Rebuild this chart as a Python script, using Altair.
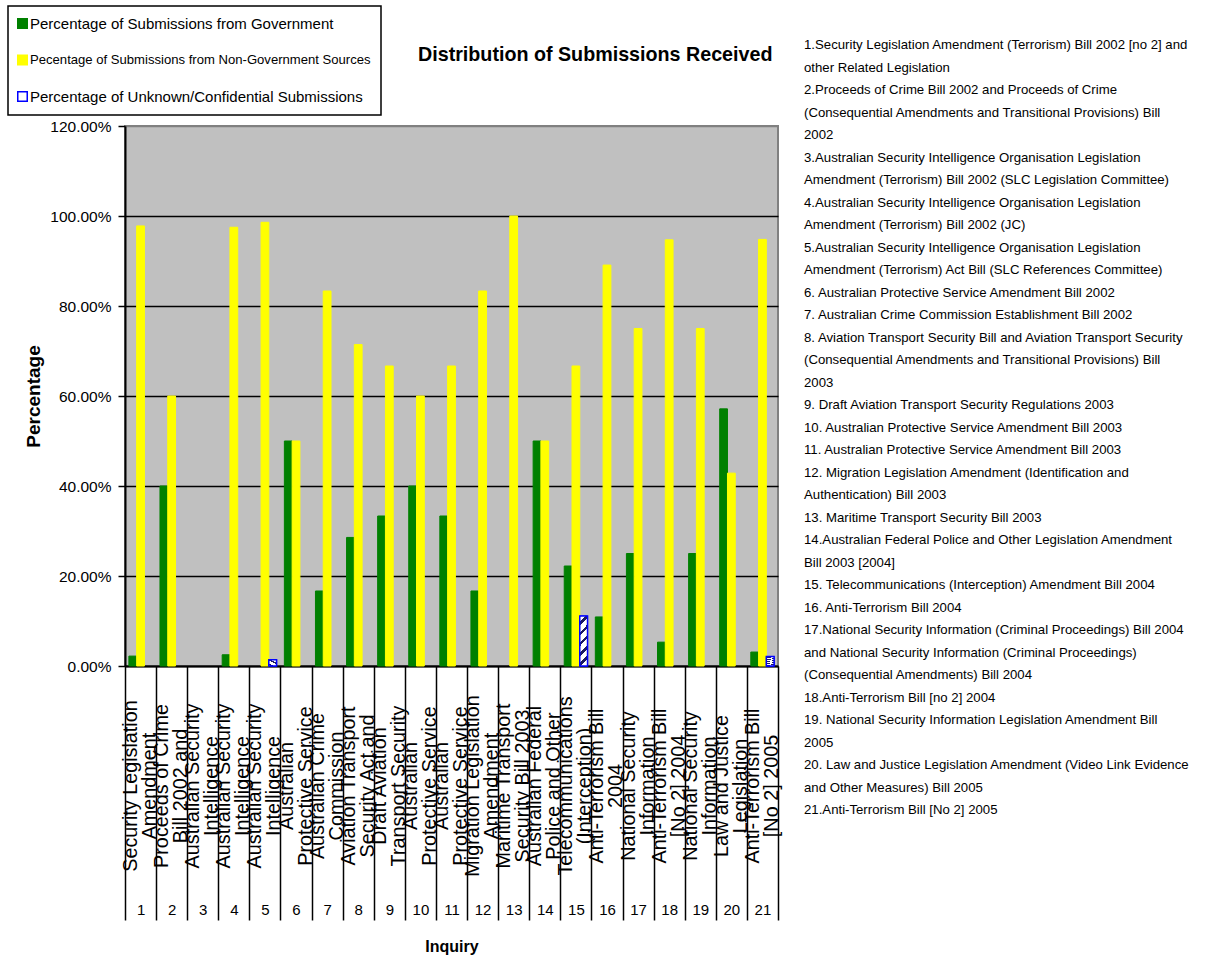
import altair as alt
import pandas as pd

# ---- data -----------------------------------------------------------------
inquiries = [str(i) for i in range(1, 22)]

gov_pct = [2.2, 40.0, 0, 2.5, 0, 50.0, 16.67, 28.57, 33.33, 40.0, 33.33,
           16.67, 0, 50.0, 22.22, 10.9, 25.0, 5.3, 25.0, 57.14, 3.1]
nongov_pct = [97.8, 60.0, 0, 97.5, 98.6, 50.0, 83.33, 71.43, 66.67, 60.0, 66.67,
              83.33, 100.0, 50.0, 66.67, 89.1, 75.0, 94.7, 75.0, 42.86, 94.8]
unknown_pct = [0, 0, 0, 0, 1.4, 0, 0, 0, 0, 0, 0,
               0, 0, 0, 11.11, 0, 0, 0, 0, 0, 2.1]

series = [
    "Percentage of Submissions from Government",
    "Pecentage of Submissions from Non-Government Sources",
    "Percentage of Unknown/Confidential Submissions",
]
fills = ["#008000", "#FFFF00", "#FFFFFF"]
strokes = ["#008000", "#FFFF00", "#0000FF"]

# short category text printed under each column (two wrapped lines)
short_labels = [
    ["Security Legislation", "Amendment"],
    ["Proceeds of Crime", "Bill 2002 and"],
    ["Australian Security", "Intelligence"],
    ["Australian Security", "Intelligence"],
    ["Australian Security", "Intelligence"],
    ["Australian", "Protective Service"],
    ["Australian Crime", "Commission"],
    ["Aviation Transport", "Security Act and"],
    ["Draft Aviation", "Transport Security"],
    ["Australian", "Protective Service"],
    ["Australian", "Protective Service"],
    ["Migration Legislation", "Amendment"],
    ["Maritime Transport", "Security Bill 2003"],
    ["Australian Federal", "Police and Other"],
    ["Telecommunications", "(Interception)"],
    ["Anti-Terrorism Bill", "2004"],
    ["National Security", "Information"],
    ["Anti-Terrorism Bill", "[No 2] 2004"],
    ["National Security", "Information"],
    ["Law and Justice", "Legislation"],
    ["Anti-Terrorism Bill", "[No 2] 2005"],
]

# full inquiry names, as wrapped in the side list
full_names = [
    ["1.Security Legislation Amendment (Terrorism) Bill 2002 [no 2] and",
     "other Related Legislation"],
    ["2.Proceeds of Crime Bill 2002 and Proceeds of Crime",
     "(Consequential Amendments and Transitional Provisions) Bill",
     "2002"],
    ["3.Australian Security Intelligence Organisation Legislation",
     "Amendment (Terrorism) Bill 2002 (SLC Legislation Committee)"],
    ["4.Australian Security Intelligence Organisation Legislation",
     "Amendment (Terrorism) Bill 2002 (JC)"],
    ["5.Australian Security Intelligence Organisation Legislation",
     "Amendment (Terrorism) Act  Bill (SLC References Committee)"],
    ["6. Australian Protective Service Amendment Bill 2002"],
    ["7. Australian Crime Commission Establishment Bill 2002"],
    ["8. Aviation Transport Security Bill and Aviation Transport Security",
     "(Consequential Amendments and Transitional Provisions) Bill",
     "2003"],
    ["9. Draft Aviation Transport Security Regulations 2003"],
    ["10. Australian Protective Service Amendment Bill 2003"],
    ["11. Australian Protective Service Amendment Bill 2003"],
    ["12. Migration Legislation Amendment (Identification and",
     "Authentication) Bill 2003"],
    ["13. Maritime Transport Security Bill 2003"],
    ["14.Australian Federal Police and Other Legislation Amendment",
     "Bill 2003 [2004]"],
    ["15. Telecommunications (Interception) Amendment Bill 2004"],
    ["16. Anti-Terrorism Bill 2004"],
    ["17.National Security Information (Criminal Proceedings) Bill 2004",
     "and National Security Information (Criminal Proceedings)",
     "(Consequential Amendments) Bill 2004"],
    ["18.Anti-Terrorism Bill [no 2] 2004"],
    ["19. National Security Information Legislation Amendment Bill",
     "2005"],
    ["20. Law and Justice Legislation Amendment (Video Link Evidence",
     "and Other Measures) Bill 2005"],
    ["21.Anti-Terrorism Bill [No 2] 2005"],
]

TITLE = "Distribution of Submissions Received"

# ---- tables ---------------------------------------------------------------
rows = []
for name, vals in zip(series, [gov_pct, nongov_pct, unknown_pct]):
    for inq, v in zip(inquiries, vals):
        if v > 0:
            rows.append({"inquiry": inq, "series": name, "value": v})
bars_df = pd.DataFrame(rows)
unknown_df = bars_df[bars_df["series"] == series[2]]

labels_df = pd.DataFrame({"inquiry": inquiries, "lines": short_labels})
side_lines = [line for name in full_names for line in name]

FONT = "Liberation Sans"

# ---- shared encodings -----------------------------------------------------
x_axis = alt.Axis(
    title="Inquiry", titleFont=FONT, titleFontWeight="bold", titleFontSize=16,
    titleY=280, titleBaseline="middle", titleColor="black",
    labelAngle=0, labelFont=FONT, labelFontSize=15, labelPadding=-18,
    labelColor="black",
    tickBand="extent", tickSize=254, tickWidth=1.5, tickColor="black",
    domainColor="black", domainWidth=2, grid=False,
)
x_enc = alt.X("inquiry:O",
              scale=alt.Scale(domain=inquiries, paddingInner=0, paddingOuter=0),
              axis=x_axis)
xoff_enc = alt.XOffset("series:N",
                       scale=alt.Scale(domain=series, paddingInner=0, paddingOuter=0.5))
y_enc = alt.Y(
    "value:Q",
    scale=alt.Scale(domain=[0, 120], nice=False),
    axis=alt.Axis(
        values=[0, 20, 40, 60, 80, 100, 120],
        labelExpr="format(datum.value, '.2f') + '%'",
        labelFont=FONT, labelFontSize=15.5, labelPadding=7, labelColor="black",
        tickSize=7, tickWidth=1.5, tickColor="black",
        domainColor="black", domainWidth=2,
        gridColor={"condition": {"test": "datum.value === 120", "value": "#808080"},
                   "value": "black"},
        gridWidth=1.5,
        title="Percentage", titleFont=FONT, titleFontSize=19,
        titleFontWeight="bold", titlePadding=6, titleColor="black",
    ),
)

# the middle legend entry is set in a slightly smaller type
legend_font_size = alt.ExprRef(
    "datum.value === '%s' ? 13.1 : 15" % series[1]
)
legend = alt.Legend(
    title=None, orient="none", legendX=-117, legendY=-120,
    direction="vertical", symbolType="square", symbolSize=90,
    symbolStrokeWidth=1.5, symbolOffset=alt.ExprRef("-3"),
    labelFont=FONT, labelFontSize=legend_font_size,
    labelColor="black", labelOffset=0, labelLimit=600,
    rowPadding=19.5, padding=10, strokeColor="black", fillColor="white",
)

bars = alt.Chart(bars_df).mark_bar(strokeWidth=1).encode(
    x=x_enc,
    xOffset=xoff_enc,
    y=y_enc,
    color=alt.Color("series:N", scale=alt.Scale(domain=series, range=fills),
                    legend=legend),
    stroke=alt.Stroke("series:N", scale=alt.Scale(domain=series, range=strokes),
                      legend=legend),
)

# diagonal hatch for the unknown / confidential series
stops = []
for k in range(5):
    b = k * 0.2
    stops += [
        alt.GradientStop(offset=b, color="#FFFFFF"),
        alt.GradientStop(offset=b + 0.12, color="#FFFFFF"),
        alt.GradientStop(offset=b + 0.12, color="#1A1A60"),
        alt.GradientStop(offset=b + 0.19, color="#1A1A60"),
        alt.GradientStop(offset=b + 0.19, color="#FFFFFF"),
    ]
hatch = alt.Gradient(gradient="linear", stops=stops, x1=0, y1=0, x2=0.16, y2=1)

unknown_bars = alt.Chart(unknown_df).mark_bar(
    fill=hatch, stroke="#0000FF", strokeWidth=1.5
).encode(x=x_enc, xOffset=xoff_enc, y=y_enc)

cat_labels = alt.Chart(labels_df).mark_text(
    angle=270, align="center", baseline="middle", font=FONT, fontSize=19.8,
    lineHeight=19, dy=-9.5, color="black",
).encode(x=x_enc, y=alt.value(660), text=alt.Text("lines:N"))

title = alt.Chart(alt.Data(values=[{"t": TITLE}])).mark_text(
    align="left", baseline="alphabetic", font=FONT, fontSize=19.7,
    fontWeight="bold", color="black",
).encode(text="t:N", x=alt.value(293), y=alt.value(-65))

side_list = alt.Chart(alt.Data(values=[{"lines": side_lines}])).mark_text(
    align="left", baseline="alphabetic", font=FONT, fontSize=13.2,
    lineHeight=22.5, color="black",
).encode(text="lines:N", x=alt.value(679), y=alt.value(-76.6))

chart = (
    alt.layer(bars, unknown_bars, cat_labels, title, side_list)
    .properties(width=653, height=540,
                padding={"left": 7, "top": 5, "right": 5, "bottom": 2},
                background="white")
    .configure_view(fill="#C0C0C0", stroke="#808080", strokeWidth=2)
    .configure_legend(strokeWidth=1.5)
)

chart.save("out.html", embed_options={"renderer": "svg", "actions": False})
